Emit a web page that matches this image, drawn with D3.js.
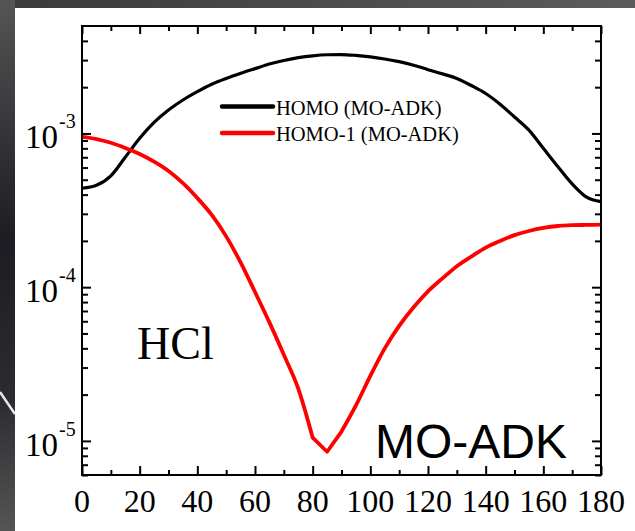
<!DOCTYPE html>
<html>
<head>
<meta charset="utf-8">
<script src="https://cdn.jsdelivr.net/npm/d3@7"></script>
<style>
  html, body { margin: 0; padding: 0; background: #2a2a2e; }
  svg { display: block; }
</style>
</head>
<body>
<svg id="chart" width="635" height="531"></svg>
<script>
// angle (deg)
var angles = [0,5,10,15,20,25,30,35,40,45,50,55,60,65,70,75,80,85,90,
              95,100,105,110,115,120,125,130,135,140,145,150,155,160,165,170,175,180];
// HOMO (MO-ADK)
var homo = [4.4e-4,4.6e-4,5.3e-4,7.0e-4,9.3e-4,1.18e-3,1.42e-3,1.65e-3,1.87e-3,2.09e-3,
            2.28e-3,2.46e-3,2.64e-3,2.83e-3,2.98e-3,3.11e-3,3.2e-3,3.25e-3,3.26e-3,
            3.22e-3,3.15e-3,3.05e-3,2.93e-3,2.78e-3,2.6e-3,2.44e-3,2.28e-3,2.05e-3,1.82e-3,
            1.55e-3,1.28e-3,1.05e-3,8.0e-4,6.1e-4,4.7e-4,3.85e-4,3.6e-4];
// HOMO-1 (MO-ADK)
var homo1 = [9.5e-4,9.2e-4,8.7e-4,8.05e-4,7.35e-4,6.55e-4,5.7e-4,4.75e-4,3.8e-4,2.95e-4,
             2.14e-4,1.45e-4,9.3e-5,5.9e-5,3.63e-5,2.19e-5,1.05e-5,8.5e-6,1.15e-5,
             1.7e-5,2.65e-5,4.0e-5,5.6e-5,7.4e-5,9.4e-5,1.14e-4,1.37e-4,1.58e-4,1.81e-4,
             2.0e-4,2.18e-4,2.32e-4,2.43e-4,2.5e-4,2.53e-4,2.54e-4,2.55e-4];

var xMajor = [0,20,40,60,80,100,120,140,160,180];
var xMinor = [10,30,50,70,90,110,130,150,170];
var yMajor = [1e-5,1e-4,1e-3];
var yMajorExp = ["-5","-4","-3"];
var yMinor = [6e-6,7e-6,8e-6,9e-6,
              2e-5,3e-5,4e-5,5e-5,6e-5,7e-5,8e-5,9e-5,
              2e-4,3e-4,4e-4,5e-4,6e-4,7e-4,8e-4,9e-4,
              2e-3,3e-3,4e-3];

var seriesNames = ["HOMO (MO-ADK)", "HOMO-1 (MO-ADK)"];
var seriesColors = ["#000000", "#ff0000"];

var svg = d3.select("#chart");

// backdrop
var defs = svg.append("defs");
var gTop = defs.append("linearGradient").attr("id", "gtop");
gTop.append("stop").attr("offset", "0%").attr("stop-color", "#3a3a3a");
gTop.append("stop").attr("offset", "100%").attr("stop-color", "#5c5c5c");
var gLeft = defs.append("linearGradient").attr("id", "gleft")
  .attr("x1", 0).attr("y1", 0).attr("x2", 0).attr("y2", 1);
gLeft.append("stop").attr("offset", "0%").attr("stop-color", "#555555");
gLeft.append("stop").attr("offset", "45%").attr("stop-color", "#1c1c22");
gLeft.append("stop").attr("offset", "75%").attr("stop-color", "#2c2c30");
gLeft.append("stop").attr("offset", "100%").attr("stop-color", "#555555");

svg.append("rect").attr("x", 0).attr("y", 0).attr("width", 635).attr("height", 8)
  .attr("fill", "url(#gtop)");
svg.append("rect").attr("x", 0).attr("y", 0).attr("width", 15).attr("height", 531)
  .attr("fill", "url(#gleft)");
svg.append("path").attr("d", "M0,392 Q8,404 15,414")
  .attr("stroke", "#e8e8e8").attr("stroke-width", 2.5).attr("fill", "none");
svg.append("rect").attr("x", 15).attr("y", 8).attr("width", 620).attr("height", 523)
  .attr("fill", "#ffffff");

var plotL = 82, plotR = 601, plotT = 26, plotB = 475;

var x = d3.scaleLinear().domain([0, 180]).range([plotL, plotR]);
var y = d3.scaleLog().domain([6e-6, 5e-3]).range([plotB, plotT]);

function tickAxis(axisFn, scale, vals, size) {
  return axisFn(scale).tickValues(vals).tickSize(size).tickFormat("");
}

var axes = svg.append("g").attr("class", "axes");
// bottom / top
axes.append("g").attr("transform", "translate(0," + plotB + ")")
  .call(tickAxis(d3.axisTop, x, xMajor, 9));
axes.append("g").attr("transform", "translate(0," + plotB + ")")
  .call(tickAxis(d3.axisTop, x, xMinor, 5));
axes.append("g").attr("transform", "translate(0," + plotT + ")")
  .call(tickAxis(d3.axisBottom, x, xMajor, 8));
axes.append("g").attr("transform", "translate(0," + plotT + ")")
  .call(tickAxis(d3.axisBottom, x, xMinor, 5));
// left / right
axes.append("g").attr("transform", "translate(" + plotL + ",0)")
  .call(tickAxis(d3.axisRight, y, yMajor, 9));
axes.append("g").attr("transform", "translate(" + plotL + ",0)")
  .call(tickAxis(d3.axisRight, y, yMinor, 6));
axes.append("g").attr("transform", "translate(" + plotR + ",0)")
  .call(tickAxis(d3.axisLeft, y, yMajor, 9));
axes.append("g").attr("transform", "translate(" + plotR + ",0)")
  .call(tickAxis(d3.axisLeft, y, yMinor, 6));
axes.selectAll(".domain").remove();
axes.selectAll(".tick line").attr("stroke", "#000").attr("stroke-width", 2);

// curves: pairs of [angle, value]
function pts(vals, from, to) {
  var out = [];
  for (var i = from; i <= to; i++) out.push([angles[i], vals[i]]);
  return out;
}
var smooth = d3.line().curve(d3.curveMonotoneX)
  .x(function(d) { return x(d[0]); })
  .y(function(d) { return y(d[1]); });
var straight = d3.line()
  .x(function(d) { return x(d[0]); })
  .y(function(d) { return y(d[1]); });

var n = angles.length - 1;
var iKink = angles.indexOf(80), iKink2 = angles.indexOf(90);
// HOMO-1 has a cusp near 85 deg: straight segments there, smooth elsewhere
var red = smooth(pts(homo1, 0, iKink)) +
          straight(pts(homo1, iKink, iKink2)).replace(/^M/, "L") +
          smooth(pts(homo1, iKink2, n)).replace(/^M/, "L");

var curves = svg.append("g").attr("class", "curves")
  .attr("fill", "none").attr("stroke-linejoin", "round");
curves.append("path")
  .attr("d", smooth(pts(homo, 0, n)))
  .attr("stroke", seriesColors[0])
  .attr("stroke-width", 3.2);
curves.append("path")
  .attr("d", red)
  .attr("stroke", seriesColors[1])
  .attr("stroke-width", 3.8);

// frame
svg.append("rect")
  .attr("x", plotL).attr("y", plotT)
  .attr("width", plotR - plotL).attr("height", plotB - plotT)
  .attr("fill", "none").attr("stroke", "#000").attr("stroke-width", 2);

// x labels
svg.append("g").attr("class", "xlabels")
  .selectAll("text")
  .data(xMajor)
  .enter()
  .append("text")
  .attr("x", function(d) { return x(d); })
  .attr("y", 512)
  .attr("text-anchor", "middle")
  .attr("font-family", "'Liberation Serif', 'Times New Roman', serif")
  .attr("font-size", 32)
  .attr("fill", "#000")
  .text(function(d) { return d; });

// y labels (10 with superscript exponent)
var ylab = svg.append("g").attr("class", "ylabels")
  .selectAll("g")
  .data(yMajor)
  .enter()
  .append("g")
  .attr("transform", function(d) { return "translate(0," + y(d) + ")"; });
ylab.append("text")
  .attr("x", 58).attr("y", 15)
  .attr("text-anchor", "end")
  .attr("font-family", "'Liberation Serif', 'Times New Roman', serif")
  .attr("font-size", 33)
  .attr("fill", "#000")
  .text("10");
ylab.append("text")
  .attr("x", 59).attr("y", -5)
  .attr("font-family", "'Liberation Serif', 'Times New Roman', serif")
  .attr("font-size", 20)
  .attr("fill", "#000")
  .text(function(d, i) { return yMajorExp[i]; });

// legend
var legend = svg.append("g").attr("class", "legend")
  .selectAll("g")
  .data(seriesNames)
  .enter()
  .append("g")
  .attr("transform", function(d, i) { return "translate(222," + (106.5 + i * 26.5) + ")"; });
legend.append("line")
  .attr("x1", 0).attr("x2", 51).attr("y1", 0).attr("y2", 0)
  .attr("stroke", function(d, i) { return seriesColors[i]; })
  .attr("stroke-width", 4.5)
  .attr("stroke-linecap", "round");
legend.append("text")
  .attr("x", 54).attr("y", 8)
  .attr("font-family", "'Liberation Serif', 'Times New Roman', serif")
  .attr("font-size", 20.5)
  .attr("fill", "#000")
  .text(function(d) { return d; });

// annotations
svg.append("text")
  .attr("x", 137).attr("y", 359)
  .attr("font-family", "'Liberation Serif', 'Times New Roman', serif")
  .attr("font-size", 46)
  .attr("fill", "#000")
  .text("HCl");
svg.append("text")
  .attr("x", 375).attr("y", 458)
  .attr("font-family", "'Liberation Sans', Arial, sans-serif")
  .attr("font-size", 48)
  .attr("fill", "#000")
  .text("MO-ADK");
</script>
</body>
</html>
